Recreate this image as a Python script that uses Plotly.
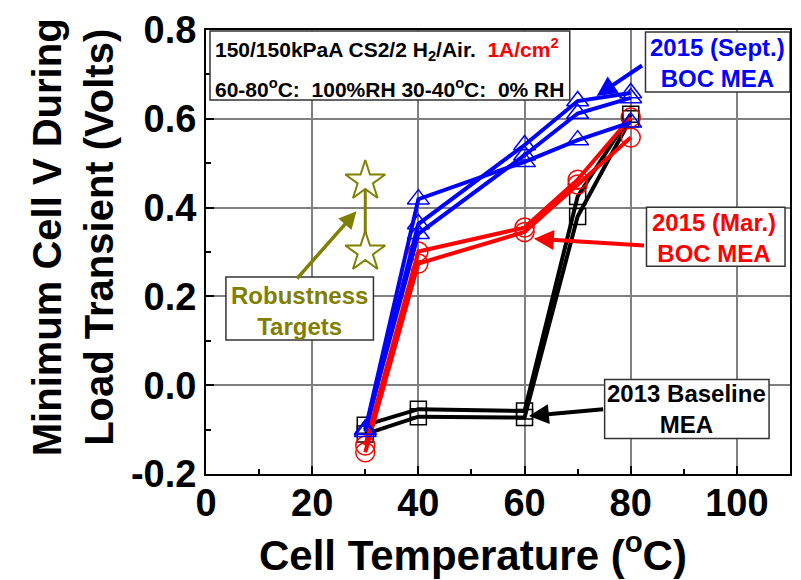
import plotly.graph_objects as go

# ---------------- data ----------------
temps = [30, 40, 60, 70, 80]
baseline_2013_a = [-0.090, -0.054, -0.058, 0.425, 0.610]
baseline_2013_b = [-0.110, -0.071, -0.073, 0.380, 0.600]
boc_mar_a = [-0.136, 0.301, 0.355, 0.463, 0.603]
boc_mar_b = [-0.151, 0.274, 0.345, 0.452, 0.558]
boc_sept_a = [-0.100, 0.419, 0.503, 0.552, 0.592]
boc_sept_b = [-0.105, 0.363, 0.541, 0.640, 0.658]
boc_sept_c = [-0.100, 0.341, 0.518, 0.612, 0.647]
target_temps = [30, 30]
target_volts = [0.30, 0.46]

x_ticks = [0, 20, 40, 60, 80, 100]
y_ticks = [-0.2, 0.0, 0.2, 0.4, 0.6, 0.8]
y_tick_labels = ["-0.2", "0.0", "0.2", "0.4", "0.6", "0.8"]

# ---------------- style ----------------
FONT = "Liberation Sans, Arial, sans-serif"
BLACK = "#000000"
RED = "#FF0000"
BLUE = "#0000FF"
OLIVE = "#808000"

fig = go.Figure()

def add_series(y, color, symbol, size):
    fig.add_trace(go.Scatter(
        x=temps, y=y, mode="lines+markers",
        line=dict(color=color, width=4),
        marker=dict(symbol=symbol, size=size, color=color,
                    line=dict(color=color, width=1.5)),
        showlegend=False, hoverinfo="x+y"))

for s in (baseline_2013_a, baseline_2013_b):
    add_series(s, BLACK, "square-open", 16)
for s in (boc_mar_a, boc_mar_b):
    add_series(s, RED, "circle-open", 19)
for s in (boc_sept_a, boc_sept_b, boc_sept_c):
    add_series(s, BLUE, "triangle-up-open", 19)

fig.add_trace(go.Scatter(
    x=target_temps, y=target_volts, mode="lines+markers",
    line=dict(color=OLIVE, width=3),
    marker=dict(symbol="star", size=30, color="white",
                line=dict(color=OLIVE, width=2)),
    showlegend=False))

# pixel -> data helpers for annotation placement
L, R, T, B = 206, 792, 23, 474
def X(px):
    return (px - L) / (R - L) * 110
def Y(py):
    return 0.8 - (py - T) / (B - T)

shapes = []
def box(x0, y0, x1, y1):
    shapes.append(dict(type="rect", xref="x", yref="y",
                       x0=X(x0), x1=X(x1), y0=Y(y1), y1=Y(y0),
                       line=dict(color="#333333", width=1.5),
                       fillcolor="white", layer="above"))

box(210, 24, 571, 94)
box(647, 25, 792, 86)
box(648, 203, 787, 263)
box(606, 378, 771, 438)
box(226, 274, 374, 338)

ann = []
def text(px, py, s, color, size, xanchor="center"):
    ann.append(dict(x=X(px), y=Y(py), xref="x", yref="y", text=s,
                    showarrow=False, xanchor=xanchor, yanchor="middle",
                    font=dict(family=FONT, size=size, color=color, weight="bold")))

nb = "\u00a0"
text(213, 43, "150/150kPaA CS2/2 H<sub>2</sub>/Air." + nb + nb +
     "<span style='color:#FF0000'>1A/cm<sup>2</sup></span>", BLACK, 21, "left")
text(213, 82, "60-80<sup>o</sup>C:" + nb + nb + "100%RH 30-40<sup>o</sup>C:" + nb + nb + "0% RH",
     BLACK, 21, "left")
text(719, 57, "2015 (Sept.)<br>BOC MEA", BLUE, 24)
text(716, 234, "2015 (Mar.)<br>BOC MEA", RED, 24)
text(688, 408, "2013 Baseline<br>MEA", BLACK, 24)
text(300, 308, "Robustness<br>Targets", OLIVE, 24)

def arrow(tx, ty, sx, sy, color, width):
    ann.append(dict(x=X(tx), y=Y(ty), ax=X(sx), ay=Y(sy),
                    xref="x", yref="y", axref="x", ayref="y",
                    text="", showarrow=True, arrowhead=2, arrowsize=1.0,
                    arrowwidth=width, arrowcolor=color))

arrow(598, 90, 645, 58, BLUE, 4)
arrow(535, 235, 647, 242, RED, 4)
arrow(530, 415, 606, 408, BLACK, 4)
arrow(357, 207, 296, 277, OLIVE, 3.5)

# axis titles
ann.append(dict(x=(72 - L) / (R - L), y=(B - 233) / (B - T), xref="paper", yref="paper",
                text="Minimum Cell V During<br>Load Transient (Volts)", textangle=-90,
                showarrow=False, xanchor="center", yanchor="middle",
                font=dict(family=FONT, size=40, color=BLACK, weight="bold")))
ann.append(dict(x=(474 - L) / (R - L), y=(B - 553) / (B - T), xref="paper", yref="paper",
                text="Cell Temperature (<sup>o</sup>C)",
                showarrow=False, xanchor="center", yanchor="middle",
                font=dict(family=FONT, size=42, color=BLACK, weight="bold")))

axis_common = dict(showline=True, linecolor=BLACK, linewidth=2, mirror=True,
                   ticks="inside", ticklen=8, tickwidth=2, tickcolor=BLACK,
                   showgrid=True, gridcolor="#808080", gridwidth=1.5,
                   zeroline=False,
                   tickfont=dict(family=FONT, size=38, color=BLACK, weight="bold"))

fig.update_layout(
    width=801, height=580,
    margin=dict(l=L, r=801 - R, t=T, b=580 - B, pad=0),
    paper_bgcolor="white", plot_bgcolor="white",
    font=dict(family=FONT, color=BLACK),
    xaxis=dict(range=[0, 110], tickmode="array", tickvals=x_ticks,
               ticklabelstandoff=-6,
               minor=dict(ticks="inside", ticklen=5, tickwidth=1.5, dtick=10, tick0=0,
                          tickcolor=BLACK, showgrid=False),
               **axis_common),
    yaxis=dict(range=[-0.2, 0.8], tickmode="array", tickvals=y_ticks, ticktext=y_tick_labels,
               minor=dict(ticks="inside", ticklen=5, tickwidth=1.5, dtick=0.1, tick0=0,
                          tickcolor=BLACK, showgrid=False),
               **axis_common),
    shapes=shapes,
    annotations=ann,
)

fig.write_html("out.html", config={"displayModeBar": False},
               post_script="document.body.style.margin='0';")
